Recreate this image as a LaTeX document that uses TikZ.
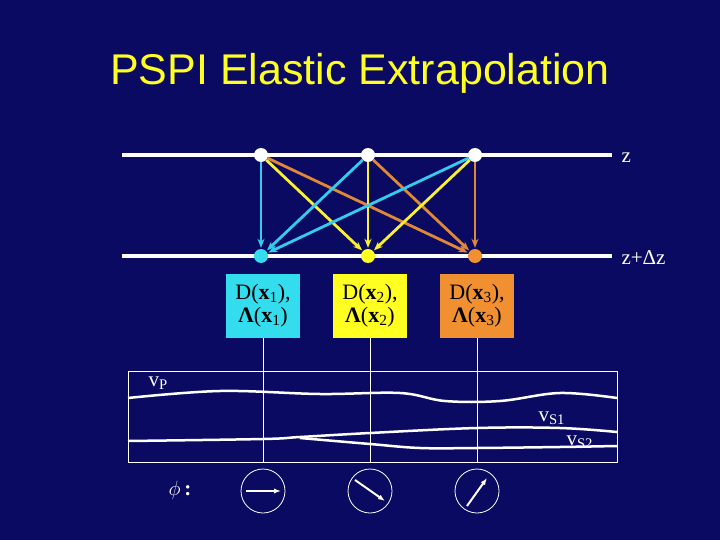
\documentclass[tikz,border=0pt]{standalone}
\usepackage{fontspec}
\usetikzlibrary{arrows.meta}
\setmainfont{Liberation Serif}
\newfontfamily\titlefont{Liberation Sans}
\begin{document}
\begin{tikzpicture}[x=1pt,y=-1pt,
  lvl/.style={white,line width=3.5pt},
  dotc/.style={circle,inner sep=0pt,minimum size=14pt,fill=#1},
  arr/.style={-{Stealth[length=9pt,width=7pt]},line width=2.8pt,draw=#1,shorten >=1pt},
  boxn/.style={fill=#1,minimum width=74pt,minimum height=64pt,inner sep=0pt,font=\fontsize{22}{23}\selectfont,align=center},
  thin/.style={white,line width=1pt},
  curve/.style={white,line width=2.5pt},
  lab/.style={white,font=\fontsize{21}{22}\selectfont}]
\definecolor{bg}{HTML}{0A0A62}
\definecolor{cy}{HTML}{33DDEE}
\definecolor{ye}{HTML}{FFFF22}
\definecolor{orn}{HTML}{F09030}
\definecolor{cya}{HTML}{33CCEE}
\definecolor{yea}{HTML}{F8F030}
\definecolor{ora}{HTML}{E08838}
\fill[bg] (0,0) rectangle (720,540);
\useasboundingbox (0,0) rectangle (720,540);
\node[font=\titlefont\fontsize{43}{45}\selectfont,text=ye] (title) at (360,73) {PSPI Elastic Extrapolation};
\coordinate (za) at (122,155); \coordinate (zb) at (612,155);
\coordinate (da) at (122,256); \coordinate (db) at (612,256);
\draw[lvl] (za)--(zb); \draw[lvl] (da)--(db);
\node[lab,anchor=west] (zl) at (618,158) {z};
\node[lab,anchor=west] (dzl) at (618,258) {z+Δz};
\node[dotc=white] (t1) at (261,155) {};
\node[dotc=white] (t2) at (368,155) {};
\node[dotc=white] (t3) at (475,155) {};
\node[dotc=cy] (b1) at (261,256) {};
\node[dotc=ye] (b2) at (368,256) {};
\node[dotc=orn] (b3) at (475,256) {};
\foreach \s in {t1,t2,t3}{
  \draw[arr=cya] (\s) -- (b1);
  \draw[arr=yea] (\s) -- (b2);
  \draw[arr=ora] (\s) -- (b3);}
\node[boxn=cy] (x1) at (263,306) {D(\textbf{x}\textsubscript{1}),\\ \textbf{Λ}(\textbf{x}\textsubscript{1})};
\node[boxn=ye] (x2) at (370,306) {D(\textbf{x}\textsubscript{2}),\\ \textbf{Λ}(\textbf{x}\textsubscript{2})};
\node[boxn=orn] (x3) at (477,306) {D(\textbf{x}\textsubscript{3}),\\ \textbf{Λ}(\textbf{x}\textsubscript{3})};
\coordinate (fa) at (128,371); \coordinate (fb) at (617,462);
\draw[thin] (fa) rectangle (fb);
\coordinate (e1) at (263,462); \coordinate (e2) at (370,462); \coordinate (e3) at (477,462);
\draw[thin] (x1.south) -- (e1); \draw[thin] (x2.south) -- (e2); \draw[thin] (x3.south) -- (e3);
\draw[curve] plot[smooth,tension=0.6] coordinates {(128,398) (220,391) (320,394) (400,393) (445,401) (500,401) (560,393) (617,398)};
\draw[curve] plot[smooth,tension=0.6] coordinates {(128,441) (263,439) (300,437) (370,433) (477,428) (560,428) (617,432)};
\draw[curve] plot[smooth,tension=0.6] coordinates {(300,438) (370,444) (420,448) (477,448) (560,447) (617,446)};
\node[lab,anchor=west] (vp) at (145,383) {v\textsubscript{P}};
\node[lab,anchor=west] (vs1) at (535,418) {v\textsubscript{S1}};
\node[lab,anchor=west] (vs2) at (563,442) {v\textsubscript{S2}};
\node[lab] (phi) at (180,490) {$\phi$\,\textbf{:}};
\node[circle,draw=white,line width=0.8pt,minimum size=44pt,inner sep=0pt] (c1) at (263,491) {};
\node[circle,draw=white,line width=0.8pt,minimum size=44pt,inner sep=0pt] (c2) at (370,491) {};
\node[circle,draw=white,line width=0.8pt,minimum size=44pt,inner sep=0pt] (c3) at (477,491) {};
\draw[white,line width=2pt,-{Latex[length=7pt]}] ([xshift=-17pt]c1.center) -- ([xshift=18pt]c1.center);
\draw[white,line width=2pt,-{Latex[length=7pt]}] ([shift={(-15pt,11pt)}]c2.center) -- ([shift={(15pt,-10pt)}]c2.center);
\draw[white,line width=2pt,-{Latex[length=7pt]}] ([shift={(-10pt,-15pt)}]c3.center) -- ([shift={(10pt,13pt)}]c3.center);
\end{tikzpicture}
\end{document}
